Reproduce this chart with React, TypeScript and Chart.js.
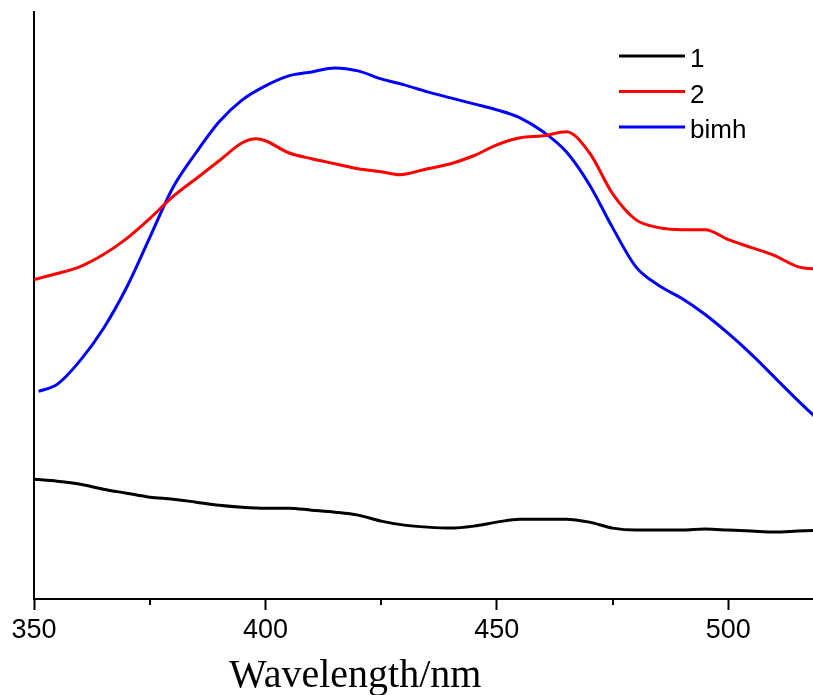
import React, { useEffect, useRef } from "react";
import { Chart, registerables } from "chart.js";

Chart.register(...registerables);

// Wavelength samples (nm) and intensities (arbitrary units)
const wave1 = [350, 355, 360, 365, 370, 375, 380, 385, 390, 395, 400, 405, 410, 415, 420, 425, 430, 435, 440, 445, 450, 455, 460, 465, 470, 475, 480, 485, 490, 495, 500, 505, 510, 515, 520];
const series1 = [119, 117, 114, 109, 105, 101, 99, 96, 93, 91, 90, 90, 88, 86, 83, 77, 73, 71, 70, 72, 76, 79, 79, 79, 76, 70, 68, 68, 68, 69, 68, 67, 66, 67, 68];

const wave2 = [350, 355, 360, 365, 370, 375, 380, 385, 390, 395, 398, 400, 405, 410, 415, 420, 425, 429, 435, 440, 445, 450, 455, 460, 465, 470, 475, 480, 485, 490, 495, 500, 505, 510, 515, 520];
const series2 = [319, 325, 332, 344, 360, 380, 402, 420, 438, 456, 460, 458, 446, 440, 435, 430, 427, 424, 430, 435, 443, 454, 461, 463, 467, 446, 405, 379, 371, 369, 369, 359, 351, 343, 332, 329];

const waveBimh = [351, 355, 360, 365, 370, 375, 380, 385, 390, 395, 400, 405, 410, 415, 420, 425, 430, 435, 440, 445, 450, 455, 460, 465, 470, 475, 480, 485, 490, 495, 500, 505, 510, 515, 520];
const seriesBimh = [207, 214, 238, 270, 311, 361, 411, 446, 477, 499, 513, 523, 527, 531, 528, 520, 514, 507, 501, 495, 489, 481, 467, 447, 414, 371, 332, 313, 300, 284, 265, 244, 221, 198, 176];

const seriesLabels = ["1", "2", "bimh"];
const seriesColors = ["#000000", "#ff0000", "#0000ff"];

const xMin = 350;
const xMax = 518.3;
const majorTicks = [350, 400, 450, 500];
const minorTicks = [375, 425, 475];
const xTitle = "Wavelength/nm";
const xTitleCenter = 419.4;

const toPts = (xs: number[], ys: number[]) => xs.map((x, i) => ({ x, y: ys[i] }));

const decorPlugin = {
  id: "decor",
  afterDraw(chart: any) {
    const ctx = chart.ctx;
    const xs = chart.scales.x;
    const area = chart.chartArea;
    ctx.save();
    // minor ticks
    ctx.strokeStyle = "#000";
    ctx.lineWidth = 2;
    minorTicks.forEach((v) => {
      const px = Math.round(xs.getPixelForValue(v));
      ctx.beginPath();
      ctx.moveTo(px, area.bottom);
      ctx.lineTo(px, area.bottom + 6);
      ctx.stroke();
    });
    // x title
    ctx.fillStyle = "#000";
    ctx.font = "40px 'Liberation Serif', 'Times New Roman', serif";
    ctx.textAlign = "center";
    ctx.textBaseline = "alphabetic";
    ctx.fillText(xTitle, xs.getPixelForValue(xTitleCenter), 687);
    // legend
    ctx.font = "26px 'Liberation Sans', Arial, sans-serif";
    ctx.textAlign = "left";
    chart.data.datasets.forEach((ds: any, i: number) => {
      const y = 56 + 35.5 * i;
      ctx.strokeStyle = ds.borderColor;
      ctx.lineWidth = 3;
      ctx.beginPath();
      ctx.moveTo(619, y);
      ctx.lineTo(685, y);
      ctx.stroke();
      ctx.fillStyle = "#000";
      ctx.fillText(ds.label, 690, y + 11);
    });
    ctx.restore();
  },
};

export default function App() {
  const ref = useRef<HTMLCanvasElement | null>(null);
  useEffect(() => {
    if (!ref.current) return;
    const chart = new Chart(ref.current, {
      type: "line",
      data: {
        datasets: [
          { label: seriesLabels[0], data: toPts(wave1, series1), borderColor: seriesColors[0] },
          { label: seriesLabels[1], data: toPts(wave2, series2), borderColor: seriesColors[1] },
          { label: seriesLabels[2], data: toPts(waveBimh, seriesBimh), borderColor: seriesColors[2] },
        ].map((d) => ({
          ...d,
          borderWidth: 3,
          pointRadius: 0,
          fill: false,
          cubicInterpolationMode: "monotone" as const,
        })),
      },
      options: {
        animation: false,
        responsive: false,
        devicePixelRatio: 1,
        layout: { padding: { top: 12, right: 0, left: 0, bottom: 0 } },
        plugins: { legend: { display: false }, tooltip: { enabled: false } },
        scales: {
          x: {
            type: "linear",
            min: xMin,
            max: xMax,
            afterBuildTicks: (s: any) => {
              s.ticks = majorTicks.map((v) => ({ value: v }));
            },
            afterFit: (s: any) => {
              s.height = 96;
            },
            ticks: {
              color: "#000",
              font: { size: 27, family: "'Liberation Sans', Arial, sans-serif" },
              padding: 4,
              maxRotation: 0,
              autoSkip: false,
            },
            grid: {
              display: true,
              drawOnChartArea: false,
              drawTicks: true,
              tickLength: 11,
              tickColor: "#000",
              tickWidth: 2,
            },
            border: { display: true, color: "#000", width: 2 },
          },
          y: {
            type: "linear",
            min: -1,
            max: 587,
            afterFit: (s: any) => {
              s.width = 34;
            },
            ticks: { display: false },
            grid: { display: false, drawTicks: false },
            border: { display: true, color: "#000", width: 2 },
          },
        },
      },
      plugins: [decorPlugin],
    });
    return () => chart.destroy();
  }, []);
  return (
    <div style={{ position: "fixed", left: 0, top: 0, width: 813, height: 695, background: "#fff" }}>
      <canvas ref={ref} width={813} height={695} style={{ width: 813, height: 695 }} />
    </div>
  );
}
